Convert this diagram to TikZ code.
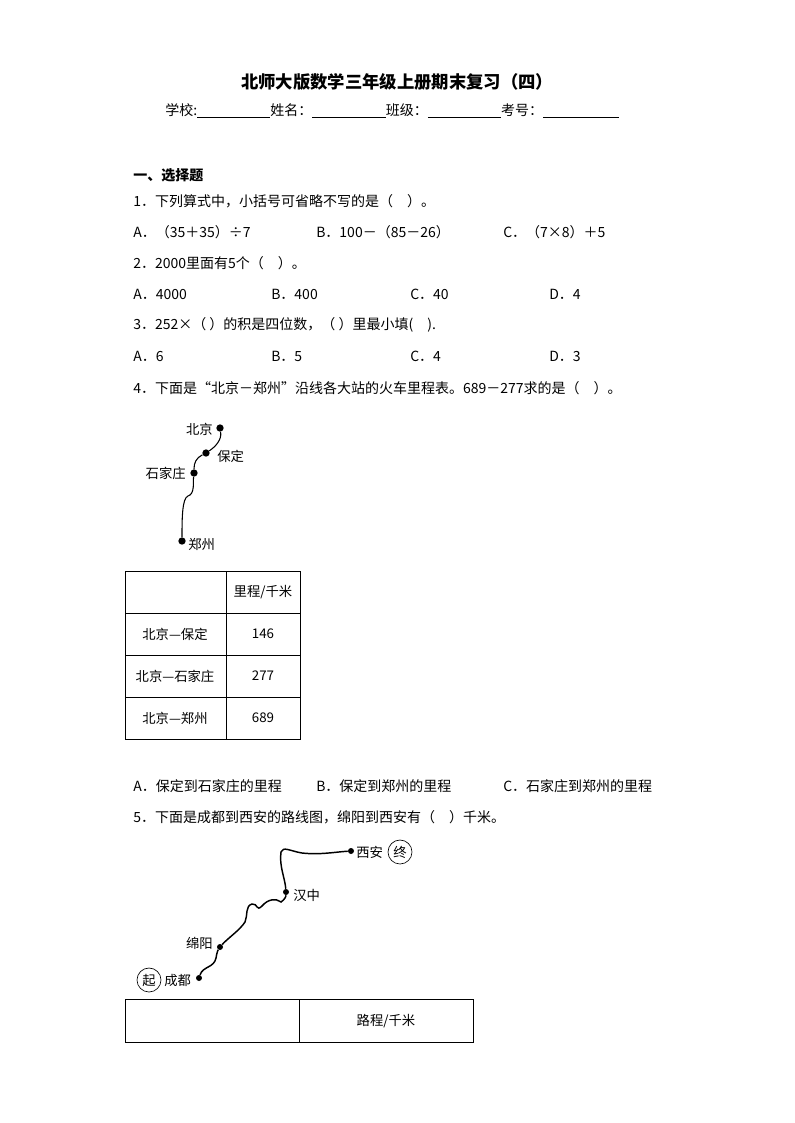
\documentclass[tikz,border=0pt]{standalone}
\usepackage{fontspec}
\setmainfont{Noto Sans CJK SC}
\begin{document}
\begin{tikzpicture}[x=0.75pt,y=-0.75pt,
  t/.style={anchor=west,inner sep=0pt,font=\fontsize{10.5}{12}\selectfont},
  s/.style={anchor=center,inner sep=0pt,font=\fontsize{10}{12}\selectfont},
  dot/.style={circle,fill=black,inner sep=0pt,minimum size=5.5pt},
  route/.style={line width=1.1pt}]
\useasboundingbox (0,0) rectangle (794,1123);
\fill[white] (0,0) rectangle (794,1123);
\node[anchor=center,font=\bfseries\fontsize{13}{15}\selectfont] (title) at (397,82) {北师大版数学三年级上册期末复习（四）};
\node[t] (info) at (165,111) {学校:\underline{\hspace{55pt}}姓名：\underline{\hspace{55pt}}班级：\underline{\hspace{55pt}}考号：\underline{\hspace{57pt}}};
\node[t,font=\bfseries\fontsize{10.5}{12}\selectfont] (sec) at (133,175) {一、选择题};
\node[t] (q1) at (133,201) {1．下列算式中，小括号可省略不写的是（\quad）。};
\node[t] (q1a) at (133,232) {A．（35＋35）÷7};
\node[t] (q1b) at (316,232) {B．100－（85－26）};
\node[t] (q1c) at (503,232) {C．（7×8）＋5};
\node[t] (q2) at (133,263) {2．2000里面有5个（\quad）。};
\node[t] (q2a) at (133,294) {A．4000};
\node[t] (q2b) at (271,294) {B．400};
\node[t] (q2c) at (410,294) {C．40};
\node[t] (q2d) at (549,294) {D．4};
\node[t] (q3) at (133,325) {3．252×（\ ）的积是四位数，（\ ）里最小填(\quad).};
\node[t] (q3a) at (133,356) {A．6};
\node[t] (q3b) at (271,356) {B．5};
\node[t] (q3c) at (410,356) {C．4};
\node[t] (q3d) at (549,356) {D．3};
\node[t] (q4) at (133,388) {4．下面是“北京－郑州”沿线各大站的火车里程表。689－277求的是（\quad）。};
% map 1
\node[dot] (bj) at (220,428) {};
\node[dot] (bd) at (206,453) {};
\node[dot] (sjz) at (194,473) {};
\node[dot] (zz) at (182,541) {};
\draw[line width=0.8pt] (bj) .. controls (222,440) and (215,447) .. (bd) .. controls (196,458) and (194,463) .. (sjz) .. controls (193,482) and (195,494) .. (188,496) .. controls (182,498) and (182,520) .. (zz);
\node[s,anchor=east] (lbj) at (213,429) {北京};
\node[s,anchor=west] (lbd) at (217,456) {保定};
\node[s,anchor=east] (lsjz) at (186,473) {石家庄};
\node[s,anchor=west] (lzz) at (188,544) {郑州};
% table 1
\draw[line width=0.6pt] (125,571) rectangle (300,739);
\foreach \y in {613,655,697} \draw[line width=0.6pt] (125,\y) -- (300,\y);
\draw[line width=0.6pt] (226,571) -- (226,739);
\node[s] (h1) at (263,592) {里程/千米};
\node[s] (r1) at (175,634) {北京—保定};
\node[s] (v1) at (263,634) {146};
\node[s] (r2) at (175,676) {北京—石家庄};
\node[s] (v2) at (263,676) {277};
\node[s] (r3) at (175,718) {北京—郑州};
\node[s] (v3) at (263,718) {689};
\node[t] (q4a) at (133,786) {A．保定到石家庄的里程};
\node[t] (q4b) at (316,786) {B．保定到郑州的里程};
\node[t] (q4c) at (503,786) {C．石家庄到郑州的里程};
\node[t] (q5) at (133,817) {5．下面是成都到西安的路线图，绵阳到西安有（\quad）千米。};
% map 2
\node[dot,minimum size=4.5pt] (cd) at (199,978) {};
\node[dot,minimum size=4.5pt] (my) at (220,947) {};
\node[dot,minimum size=4.5pt] (hz) at (286,892) {};
\node[dot,minimum size=4.5pt] (xa) at (351,851) {};
\draw[route] (cd) .. controls (203,966) and (214,968) .. (216,958) .. controls (217,952) and (218,950) .. (my)
  .. controls (228,938) and (240,930) .. (245,922) .. controls (248,915) and (245,906) .. (252,904)
  .. controls (258,903) and (256,912) .. (262,906) .. controls (268,899) and (276,898) .. (281,902)
  .. controls (284,900) and (286,897) .. (hz) .. controls (285,878) and (279,866) .. (281,852)
  .. controls (283,846) and (290,851) .. (302,853) .. controls (320,855) and (335,852) .. (xa);
\node[s,anchor=west] (lcd) at (164,980) {成都};
\node[s,anchor=east] (lmy) at (213,943) {绵阳};
\node[s,anchor=west] (lhz) at (293,895) {汉中};
\node[s,anchor=west] (lxa) at (356,852) {西安};
\node[s,draw,circle,minimum size=18pt,line width=0.5pt] (qi) at (149,980) {起};
\node[s,draw,circle,minimum size=18pt,line width=0.5pt] (zhong) at (400,852) {终};
% table 2
\draw[line width=0.6pt] (125,999) rectangle (473,1042);
\draw[line width=0.6pt] (299,999) -- (299,1042);
\node[s] (h2) at (386,1021) {路程/千米};
\end{tikzpicture}
\end{document}
